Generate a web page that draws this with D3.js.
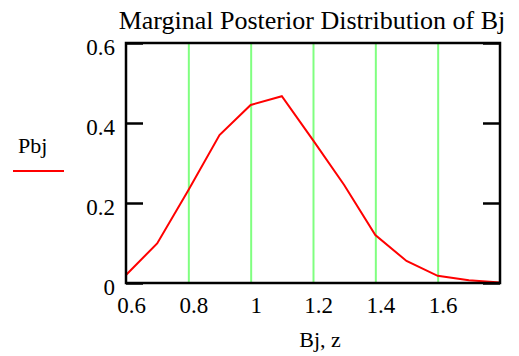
<!DOCTYPE html>
<html>
<head>
<meta charset="utf-8">
<script src="https://cdn.jsdelivr.net/npm/d3@7"></script>
<style>
  body { margin: 0; background: #fff; }
</style>
</head>
<body>
<div id="chart"></div>
<script>
// values
const bj = [0.6, 0.7, 0.8, 0.9, 1.0, 1.1, 1.2, 1.3, 1.4, 1.5, 1.6, 1.7, 1.8];
const pbj = [0.02, 0.099, 0.232, 0.37, 0.445, 0.467, 0.357, 0.245, 0.12, 0.055, 0.018, 0.007, 0.001];
const xTicks = [0.6, 0.8, 1, 1.2, 1.4, 1.6];
const gridTicks = [0.8, 1, 1.2, 1.4, 1.6];
const yTicks = [0, 0.2, 0.4, 0.6];

const FONT = '"Liberation Serif", "Times New Roman", serif';
const W = 519, H = 356;
const margin = { top: 43, right: 19, bottom: 73, left: 126 };
const width = W - margin.left - margin.right;
const height = H - margin.top - margin.bottom;

const svg = d3.select('#chart').append('svg')
  .attr('width', W)
  .attr('height', H);

const chart = svg.append('g')
  .attr('transform', `translate(${margin.left},${margin.top})`);

const x = d3.scaleLinear().domain([0.6, 1.8]).range([0, width]);
const y = d3.scaleLinear().domain([0, 0.6]).range([height, 0]);

// green vertical grid lines
const grid = chart.append('g')
  .attr('class', 'grid')
  .call(d3.axisBottom(x).tickValues(gridTicks).tickSize(-height).tickFormat(''))
  .attr('transform', `translate(0,${height})`);
grid.select('.domain').remove();
grid.selectAll('line').attr('stroke', '#80ff80').attr('stroke-width', 2);

// red curve
chart.append('path')
  .datum(bj.map((v, i) => [v, pbj[i]]))
  .attr('fill', 'none')
  .attr('stroke', '#ff0000')
  .attr('stroke-width', 2)
  .attr('d', d3.line().x(d => x(d[0])).y(d => y(d[1])));

// frame
chart.append('rect')
  .attr('width', width).attr('height', height)
  .attr('fill', 'none').attr('stroke', '#000').attr('stroke-width', 2.5);

// left axis, inward ticks
const yAxis = chart.append('g')
  .call(d3.axisLeft(y).tickValues(yTicks).tickSize(-17).tickFormat(d => d === 0 ? '0' : d3.format('.1f')(d)));
yAxis.attr('font-family', null).attr('font-size', null);
yAxis.select('.domain').remove();
yAxis.selectAll('line').attr('stroke', '#000').attr('stroke-width', 2.5);
yAxis.selectAll('text')
  .attr('x', -11).attr('dy', 11.5)
  .style('font-family', FONT)
  .style('font-size', '23px')
  .attr('fill', '#000');

// right axis, inward ticks, no labels
const yAxisR = chart.append('g')
  .attr('transform', `translate(${width},0)`)
  .call(d3.axisRight(y).tickValues(yTicks).tickSize(-17).tickFormat(''));
yAxisR.select('.domain').remove();
yAxisR.selectAll('line').attr('stroke', '#000').attr('stroke-width', 2.5);

// bottom labels
const xAxis = chart.append('g')
  .attr('transform', `translate(0,${height})`)
  .call(d3.axisBottom(x).tickValues(xTicks).tickSize(0).tickFormat(d => d === 1 ? '1' : d3.format('.1f')(d)));
xAxis.attr('font-family', null).attr('font-size', null);
xAxis.select('.domain').remove();
xAxis.selectAll('text')
  .attr('dx', 5).attr('y', 30).attr('dy', 0)
  .style('font-family', FONT)
  .style('font-size', '23px')
  .attr('fill', '#000');

// title
svg.append('text')
  .attr('x', 312).attr('y', 29)
  .attr('text-anchor', 'middle')
  .style('font-family', FONT)
  .style('font-size', '26px')
  .text('Marginal Posterior Distribution of Bj');

// x label
svg.append('text')
  .attr('x', 320).attr('y', 347)
  .attr('text-anchor', 'middle')
  .style('font-family', FONT)
  .style('font-size', '22px')
  .text('Bj, z');

// legend
svg.append('text')
  .attr('x', 18).attr('y', 153)
  .style('font-family', FONT)
  .style('font-size', '22px')
  .text('Pbj');
svg.append('line')
  .attr('x1', 13).attr('x2', 64).attr('y1', 171).attr('y2', 171)
  .attr('stroke', '#ff0000').attr('stroke-width', 2);
</script>
</body>
</html>
